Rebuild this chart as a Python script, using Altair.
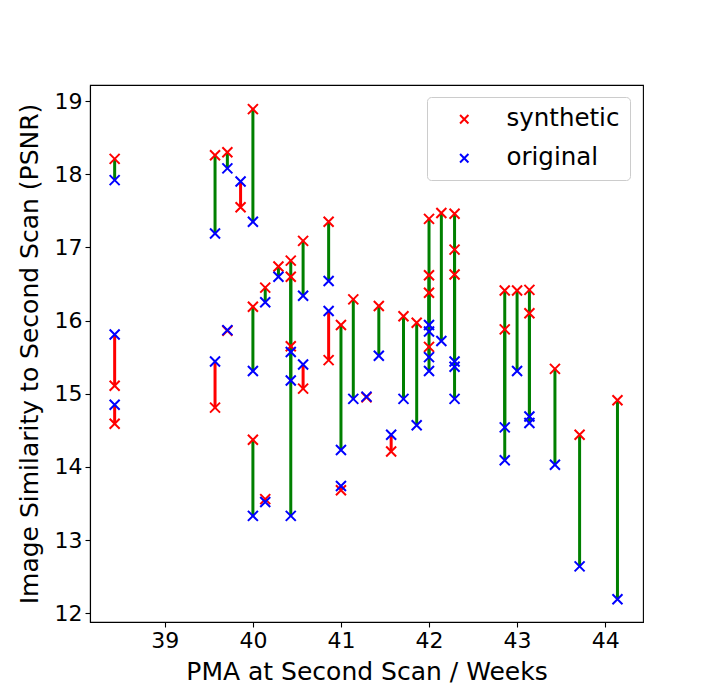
import altair as alt
import pandas as pd

# PMA at second scan (weeks), one entry per synthetic/original pair
pma = [
    38.43, 38.43, 38.43,
    39.57, 39.57,
    39.71, 39.71,
    39.86,
    40.00, 40.00, 40.00,
    40.14, 40.14,
    40.29,
    40.43, 40.43, 40.43,
    40.57, 40.57,
    40.86, 40.86,
    41.00, 41.00,
    41.14,
    41.29,
    41.43,
    41.57,
    41.71,
    41.86,
    42.00, 42.00, 42.00, 42.00,
    42.14,
    42.29, 42.29, 42.29,
    42.86, 42.86,
    43.00,
    43.14, 43.14,
    43.43,
    43.71,
    44.14,
]
synthetic = [
    18.21, 15.11, 14.59,
    18.26, 14.81,
    18.30, 15.86,
    17.55,
    18.89, 16.19, 14.37,
    16.45, 13.56,
    16.74,
    16.82, 16.60, 15.65,
    17.09, 15.07,
    17.35, 15.46,
    15.94, 13.68,
    16.29,
    14.95,
    16.20,
    14.21,
    16.06,
    15.97,
    17.39, 16.62, 16.38, 15.64,
    17.47,
    17.46, 16.97, 16.63,
    16.41, 15.88,
    16.41,
    16.42, 16.10,
    15.34,
    14.44,
    14.91,
]
original = [
    17.92, 15.81, 14.85,
    17.19, 15.44,
    18.08, 15.87,
    17.90,
    17.35, 15.31, 13.33,
    16.25, 13.52,
    16.60,
    13.33, 15.18, 15.57,
    16.34, 15.40,
    16.54, 16.13,
    14.23, 13.74,
    14.93,
    14.96,
    15.52,
    14.44,
    14.93,
    14.57,
    15.31, 15.85, 15.94, 15.50,
    15.72,
    14.93, 15.44, 15.37,
    14.09, 14.54,
    15.31,
    14.60, 14.69,
    14.03,
    12.64,
    12.19,
]
series_names = ["synthetic", "original"]
series_colors = ["red", "blue"]
x_ticks = [39, 40, 41, 42, 43, 44]
y_ticks = [12, 13, 14, 15, 16, 17, 18, 19]

pairs = pd.DataFrame({"pma": pma, "synthetic": synthetic, "original": original})
pairs["lc"] = ["green" if s > o else "red" for s, o in zip(synthetic, original)]

pts = pd.concat([
    pd.DataFrame({"pma": pma, "value": synthetic, "kind": "synthetic"}),
    pd.DataFrame({"pma": pma, "value": original, "kind": "original"}),
], ignore_index=True)

XPATH = "M-1,-1L1,1M-1,1L1,-1"

xscale = alt.Scale(domain=[38.15, 44.43], nice=False, zero=False)
yscale = alt.Scale(domain=[11.88, 19.22], nice=False, zero=False)

xaxis = alt.Axis(values=x_ticks, title="PMA at Second Scan / Weeks", format="d",
                 titlePadding=8)
yaxis = alt.Axis(values=y_ticks, title="Image Similarity to Second Scan (PSNR)", format="d",
                 titlePadding=12)

rules = alt.Chart(pairs).mark_rule(strokeWidth=3).encode(
    x=alt.X("pma:Q", scale=xscale, axis=xaxis),
    y=alt.Y("synthetic:Q", scale=yscale, axis=yaxis),
    y2="original:Q",
    color=alt.Color("lc:N", scale=None),
)

points = alt.Chart(pts).mark_point(
    shape=XPATH, filled=False, strokeWidth=2, size=100, opacity=1
).encode(
    x=alt.X("pma:Q", scale=xscale),
    y=alt.Y("value:Q", scale=yscale),
    color=alt.Color(
        "kind:N",
        scale=alt.Scale(domain=series_names, range=series_colors),
        legend=alt.Legend(
            title=None, orient="none", legendX=337, legendY=12,
            strokeColor="#cccccc", fillColor="white", cornerRadius=4,
            padding=10, symbolType=XPATH, symbolSize=70, symbolStrokeWidth=2,
            symbolFillColor="transparent",
            symbolOffset=15, labelOffset=30, rowPadding=14,
            labelFontSize=24.5, labelFont="DejaVu Sans", labelColor="black",
            labelLimit=300,
        ),
    ),
)

chart = alt.layer(rules, points).properties(
    width=553, height=537,
    background="white",
    autosize=alt.AutoSizeParams(type="none"),
    padding={"left": 82, "top": 77, "right": 65, "bottom": 70},
).configure_axis(
    labelFont="DejaVu Sans", titleFont="DejaVu Sans",
    labelFontSize=22, titleFontSize=25, titleFontWeight="normal",
    labelColor="black", titleColor="black",
    domainColor="black", domainWidth=1.1, tickColor="black", tickSize=5, tickWidth=1.1,
    labelPadding=3, grid=False,
).configure_view(stroke="black", strokeWidth=1.1)

chart.save("out.html", embed_options={"renderer": "svg", "actions": False})
